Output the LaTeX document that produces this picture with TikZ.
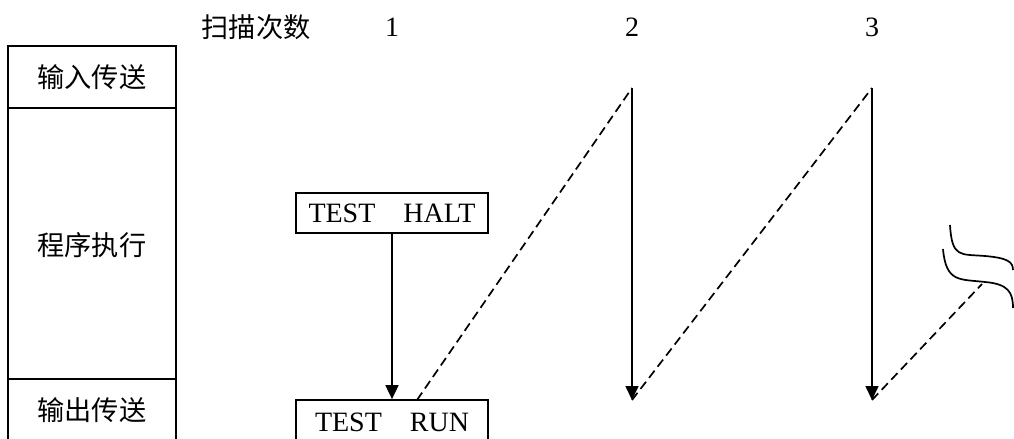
\documentclass[tikz,border=0pt]{standalone}
\usepackage{fontspec}
\setmainfont{Liberation Serif}
\newfontfamily\cjk{Noto Sans CJK SC}
\usetikzlibrary{arrows.meta, positioning}

\tikzset{
  stagetext/.style={font=\cjk\fontsize{13.6}{15}\selectfont},
  testbox/.style={draw, minimum width=96pt, font=\fontsize{14}{16}\selectfont},
  scanline/.style={dash pattern=on 4.5pt off 2.5pt},
}

\begin{document}
\begin{tikzpicture}[x=0.5pt, y=-0.5pt, >={Triangle[length=7pt,width=6.5pt]}, line width=0.85pt]
  \useasboundingbox (0,0) rectangle (1014,439);
  % Stage column
  \draw (8,439) -- (8,46) -- (176,46) -- (176,439);
  \draw (8,108) -- (176,108);
  \draw (8,379) -- (176,379);
  \node[stagetext] (input) at (92,77) {输入传送};
  \node[stagetext] (exec) at (92,245) {程序执行};
  \node[stagetext] (output) at (92,410) {输出传送};
  % Scan count header
  \node[stagetext] (scan) at (256,27) {扫描次数};
  \foreach \n/\x in {1/392, 2/632, 3/872}
    \node[font=\fontsize{14}{16}\selectfont] (num\n) at (\x,27) {\n};
  % First scan
  \node[testbox, minimum height=20pt] (halt) at (392,213) {TEST\quad HALT};
  \node[testbox, minimum height=22pt] (run) at (392,422) {TEST\quad RUN};
  \draw[->] (halt) -- (run);
  % Later scans
  \coordinate (start) at (417,400);
  \coordinate (top2) at (632,88);
  \coordinate (bot2) at (632,400);
  \coordinate (top3) at (872,88);
  \coordinate (bot3) at (872,400);
  \coordinate (brk) at (982,284);
  \draw[scanline] (start) -- (top2);
  \draw[->] (top2) -- (bot2);
  \draw[scanline] (bot2) -- (top3);
  \draw[->] (top3) -- (bot3);
  \draw[scanline] (bot3) -- (brk);
  % Break marks
  \draw (950,225) .. controls (952,258) and (960,254) .. (985,256)
    .. controls (1008,258) and (1013,262) .. (1013,270);
  \draw (943,249) .. controls (946,283) and (960,279) .. (985,282)
    .. controls (1008,284) and (1013,292) .. (1013,308);
\end{tikzpicture}
\end{document}
